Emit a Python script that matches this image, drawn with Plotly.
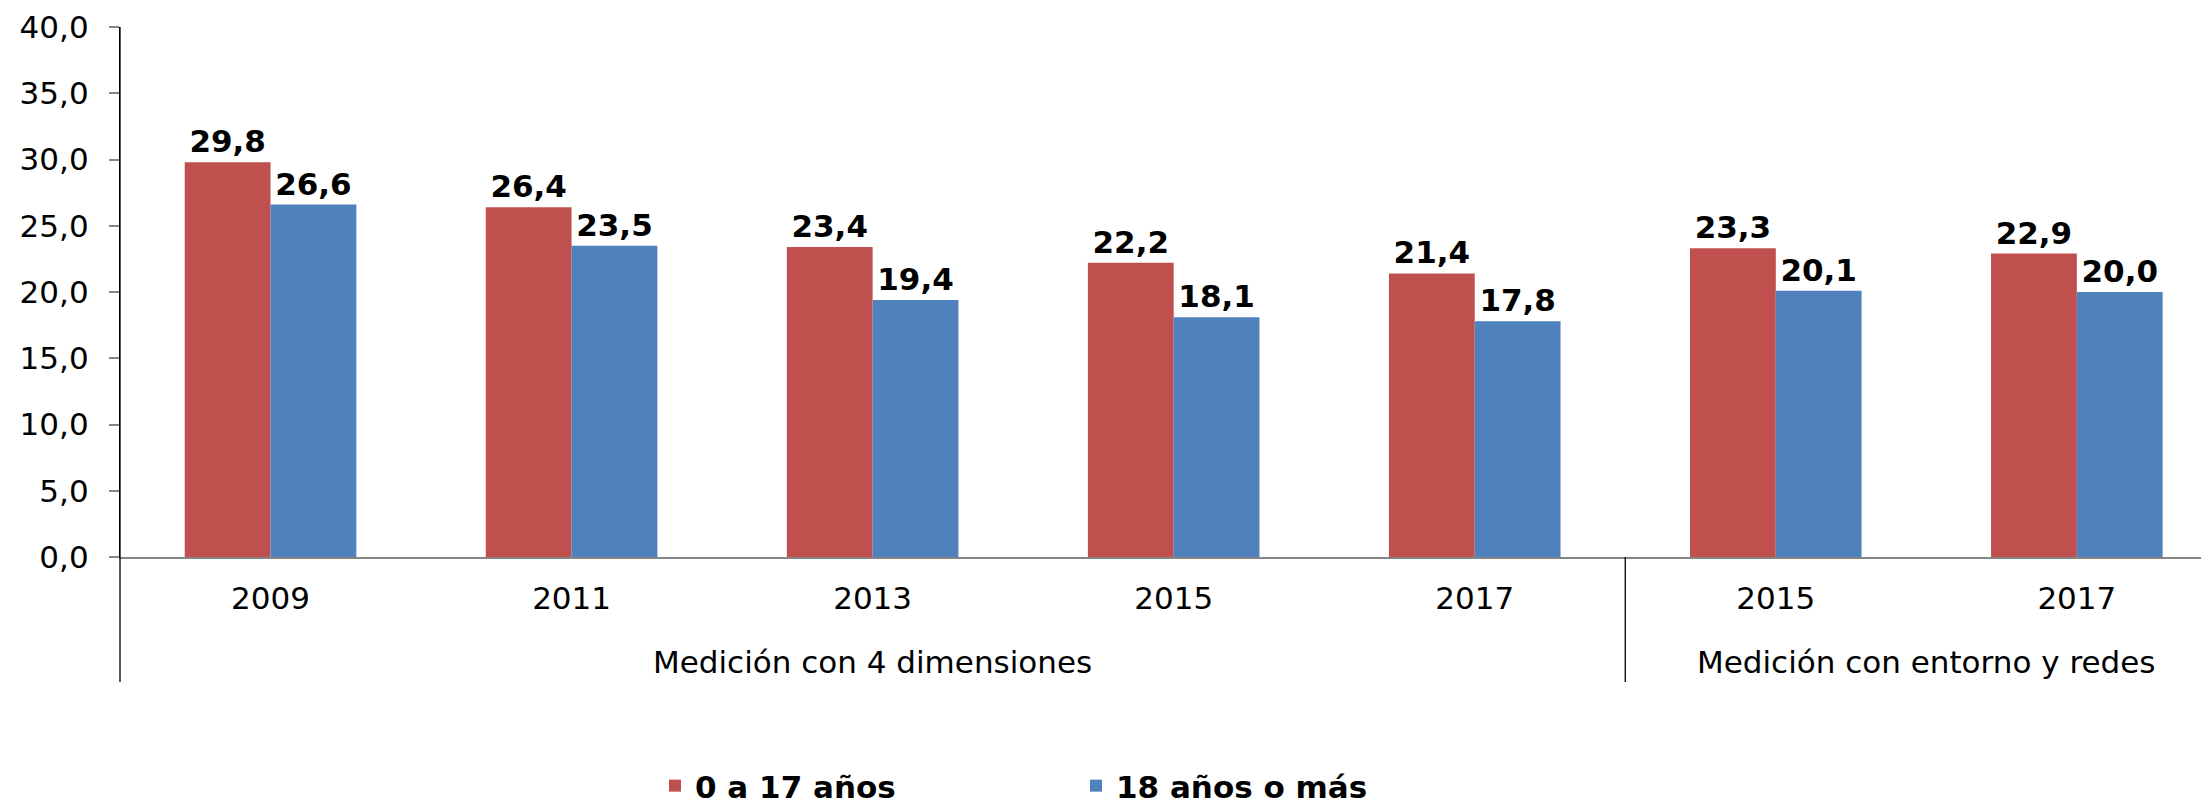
import plotly.graph_objects as go

years = ["2009", "2011", "2013", "2015", "2017", "2015", "2017"]
groups = ["Medición con 4 dimensiones", "Medición con entorno y redes"]
group_spans = [(0, 4), (5, 6)]
s1_name = "0 a 17 años"
s2_name = "18 años o más"
s1_vals = [29.8, 26.4, 23.4, 22.2, 21.4, 23.3, 22.9]
s2_vals = [26.6, 23.5, 19.4, 18.1, 17.8, 20.1, 20.0]
y_ticks = [0, 5, 10, 15, 20, 25, 30, 35, 40]

RED = "#C0504D"
BLUE = "#4F81BD"
FONT = "DejaVu Sans"

# page body has an 8px margin: figure is drawn from (8, 8) on the screen
OFF = 8
W, H = 2209 - OFF, 808 - OFF
ML, MR, MT = 120 - OFF, 0, 27 - OFF
MB = H - (557 - OFF)
xr = [-0.5, 6.439]
xpos = list(range(len(years)))

def labels(vals):
    return [f"{v:.1f}".replace(".", ",") for v in vals]

lab_font = dict(family=FONT, size=31, color="black", weight="bold")

fig = go.Figure()
fig.add_trace(go.Bar(x=xpos, y=s1_vals, name=s1_name, marker_color=RED,
                     marker_line_width=0,
                     text=labels(s1_vals), textposition="outside",
                     textfont=lab_font, cliponaxis=False))
fig.add_trace(go.Bar(x=xpos, y=s2_vals, name=s2_name, marker_color=BLUE,
                     marker_line_width=0,
                     text=labels(s2_vals), textposition="outside",
                     textfont=lab_font, cliponaxis=False))

pw = W - ML - MR
ph = H - MT - MB

def xp(v):
    return (v - xr[0]) / (xr[1] - xr[0])

def yp_px(px_below):
    return -px_below / ph

shapes = []
# extended y-axis line down through category label area
shapes.append(dict(type="line", xref="paper", yref="paper", x0=0, x1=0,
                   y0=yp_px(125), y1=1, line=dict(color="black", width=1.3)))
# separator between groups
shapes.append(dict(type="line", xref="paper", yref="paper", x0=xp(4.5), x1=xp(4.5),
                   y0=yp_px(125), y1=0, line=dict(color="black", width=1.3)))

annotations = []
for g, (a, b) in zip(groups, group_spans):
    cx = (xp(a - 0.5) + xp(b + 0.5)) / 2
    annotations.append(dict(text=g, xref="paper", yref="paper", x=cx, y=yp_px(105),
                            xanchor="center", yanchor="middle", showarrow=False,
                            font=dict(family=FONT, size=31, color="black")))

fig.update_layout(
    width=W, height=H,
    margin=dict(l=ML, r=MR, t=MT, b=MB, autoexpand=False),
    paper_bgcolor="white", plot_bgcolor="white",
    separators=", ",
    barmode="group", bargap=0.43, bargroupgap=0,
    showlegend=True,
    legend=dict(orientation="h", x=(655 - 120) / pw, y=1 - (786 - OFF) / H,
                xref="paper", yref="container",
                xanchor="left", yanchor="middle",
                font=dict(family=FONT, size=31, color="black", weight="bold"),
                entrywidth=376, itemwidth=30, traceorder="normal"),
    shapes=shapes, annotations=annotations,
    font=dict(family=FONT, color="black"),
)
fig.update_xaxes(range=xr, tickvals=xpos, ticktext=years, showgrid=False,
                 showline=True, linecolor="#868686", linewidth=1.5,
                 ticks="", tickfont=dict(family=FONT, size=31, color="black"),
                 ticklabelstandoff=13, zeroline=False, automargin=False)
fig.update_yaxes(range=[0, 40], tickvals=y_ticks, tickformat=".1f", showgrid=False,
                 showline=True, linecolor="black", linewidth=1.3,
                 ticks="outside", ticklen=10, tickcolor="#868686", tickwidth=1.5,
                 tickfont=dict(family=FONT, size=31, color="black"),
                 ticklabelstandoff=14, zeroline=False, automargin=False)

fig.write_html("out.html")
